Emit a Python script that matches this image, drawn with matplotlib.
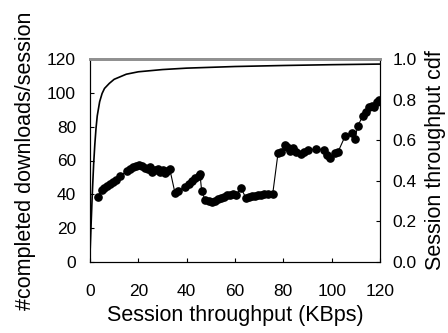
import matplotlib
matplotlib.use('Agg')
import matplotlib.pyplot as plt

plt.rcParams['font.family'] = ['Liberation Sans', 'DejaVu Sans']

# downloads/session vs session throughput
thr = [3.2, 4.8, 5.8, 7.0, 8.3, 9.5, 10.8, 12.4, 15.3, 16.5, 17.8, 19.0, 20.3,
       21.5, 22.8, 24.0, 24.8, 25.7, 26.9, 28.0, 29.0, 30.2, 31.0, 31.9, 33.0,
       35.2, 36.4, 39.3, 41.0, 42.2, 43.4, 45.1, 45.5, 46.2, 47.6, 49.2, 50.5,
       51.7, 53.0, 54.2, 55.4, 56.7, 57.9, 59.2, 60.4, 62.5, 64.5, 65.8, 67.0,
       68.3, 69.5, 70.7, 72.0, 73.6, 75.6, 77.8, 79.0, 80.7, 81.5, 82.7, 84.0,
       85.2, 87.3, 88.5, 90.2, 93.5, 96.8, 98.1, 99.3, 101.4, 102.6, 105.5,
       108.4, 109.6, 110.8, 112.9, 114.2, 115.6, 116.7, 117.5, 118.7, 119.7]
downloads = [38.2, 42.5, 43.7, 45.0, 46.0, 47.3, 48.5, 50.8, 53.8, 55.0, 56.0,
             56.7, 57.3, 56.7, 55.5, 55.0, 56.0, 53.0, 54.4, 55.0, 53.0, 54.4,
             52.6, 53.8, 55.0, 40.6, 42.0, 44.3, 46.0, 48.0, 49.6, 50.8, 52.0,
             42.1, 36.6, 36.0, 35.5, 36.0, 37.2, 37.8, 38.4, 39.6, 39.6, 40.2,
             39.6, 43.7, 37.8, 38.4, 39.0, 39.0, 39.6, 39.6, 40.2, 40.2, 40.2,
             64.3, 65.0, 69.1, 68.0, 65.6, 67.4, 65.0, 63.8, 65.0, 66.2, 66.8,
             66.4, 63.2, 61.5, 64.4, 65.0, 74.2, 76.2, 72.7, 80.5, 86.3, 88.6,
             91.6, 92.2, 91.6, 94.5, 95.7]

# session throughput cdf
cdf_x = [0, 0.5, 1, 1.5, 2, 2.5, 3, 4, 5, 6, 8, 10, 15, 20, 30, 40, 60, 80,
         100, 120]
cdf_y = [0.04, 0.2, 0.35, 0.48, 0.58, 0.66, 0.72, 0.79, 0.83, 0.855, 0.88,
         0.9, 0.925, 0.937, 0.948, 0.955, 0.963, 0.968, 0.972, 0.975]

fig = plt.figure(figsize=(4.48, 3.33), dpi=100)
ax = fig.add_axes([90 / 448, 71 / 333, 290 / 448, 203 / 333])
ax2 = ax.twinx()

ax.plot(thr, downloads, color='black', linewidth=0.8, marker='o',
        markersize=5.2, markerfacecolor='black', markeredgecolor='black')
ax2.plot(cdf_x, cdf_y, color='black', linewidth=1.2)

ax.set_xlim(0, 120)
ax.set_ylim(0, 120)
ax2.set_ylim(0, 1.0)
ax.set_xticks(range(0, 121, 20))
ax.set_yticks(range(0, 121, 20))
ax2.set_yticks([0, 0.2, 0.4, 0.6, 0.8, 1.0])
ax2.set_yticklabels(['0.0', '0.2', '0.4', '0.6', '0.8', '1.0'])

for a in (ax, ax2):
    a.tick_params(direction='in', length=3, width=0.8, labelsize=12.5)
    a.spines['top'].set_color('#909090')
    a.spines['top'].set_linewidth(2)
    for s in ('left', 'right', 'bottom'):
        a.spines[s].set_linewidth(0.8)
ax.tick_params(axis='x', pad=16)
ax.tick_params(axis='y', pad=10)
ax2.tick_params(axis='y', pad=9)

ax.set_xlabel('Session throughput (KBps)', fontsize=15.5, labelpad=4)
ax.set_ylabel('#completed downloads/session', fontsize=15.5, labelpad=8)
ax2.set_ylabel('Session throughput cdf', fontsize=15.5, labelpad=6)

fig.savefig('out.png', dpi=100)
